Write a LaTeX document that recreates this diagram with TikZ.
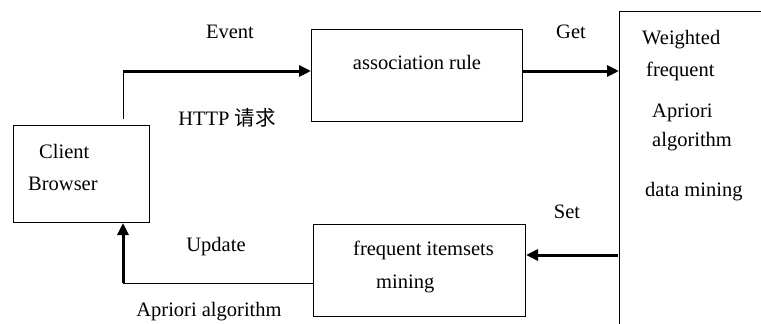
\documentclass[tikz,border=0pt]{standalone}
\usepackage{fontspec}
\setmainfont{Liberation Serif}
\newfontfamily\cjk{Noto Sans CJK SC}
\usepackage{tikz}
\usetikzlibrary{positioning, arrows.meta}

\begin{document}
\begin{tikzpicture}[x=1pt, y=-1pt,
		box/.style={draw, line width=1pt, inner sep=0pt, anchor=north west},
		lbl/.style={font=\fontsize{20.5}{24}\selectfont, inner sep=0pt},
		thinline/.style={line width=1pt},
		thickarrow/.style={line width=3pt, -{Triangle[length=12pt,width=11pt]}}]
			\useasboundingbox (0,0) rectangle (761,324);
			\clip (0,0) rectangle (761,324);
			% boxes
			\node[box, minimum width=136, minimum height=97] (cb) at (13,125) {};
			\node[box, minimum width=211, minimum height=92] (ar) at (311,29) {};
			\node[box, minimum width=212, minimum height=92] (fi) at (313,224) {};
			\node[box, minimum width=200, minimum height=400] (wf) at (619,11) {};
			% texts in the boxes
			\node[lbl, anchor=west] (cbA) at (39,151) {Client};
			\node[lbl, anchor=west] (cbB) at (28,184) {Browser};
			\node[lbl] (arA) at (417,62) {association rule};
			\node[lbl, anchor=west] (fiA) at (353,250) {frequent itemsets};
			\node[lbl, anchor=west] (fiB) at (376,284) {mining};
			\node[lbl, anchor=west] (wfA) at (642,40) {Weighted};
			\node[lbl, anchor=west] (wfB) at (646,71) {frequent};
			\node[lbl, anchor=west] (wfC) at (652,113) {Apriori};
			\node[lbl, anchor=west] (wfD) at (652,142) {algorithm};
			\node[lbl, anchor=west] (wfE) at (645,192) {data mining};
			% texts on the connectors
			\node[lbl] (ev) at (230,32) {Event};
			\node[lbl] (http) at (227,118) {HTTP {\cjk 请求}};
			\node[lbl] (get) at (571,32) {Get};
			\node[lbl] (set) at (567,212) {Set};
			\node[lbl] (upd) at (216,247) {Update};
			\node[lbl] (apr) at (209,312) {Apriori algorithm};
			% connectors
			\coordinate (evA) at (123,119);
			\coordinate (evB) at (123,71);
			\coordinate (setA) at (618,255);
			\coordinate (updA) at (123,283);
			\draw[thinline] (evA) -- (evB);
			\draw[thickarrow] (evB) -- (evB -| ar.west);
			\draw[thickarrow] (ar.east |- evB) -- (wf.west |- evB);
			\draw[thickarrow] (setA) -- (setA -| fi.east);
			\draw[thinline] (fi.west |- updA) -- (updA);
			\draw[thickarrow] (updA) -- (updA |- cb.south);
		\end{tikzpicture}
\end{document}
